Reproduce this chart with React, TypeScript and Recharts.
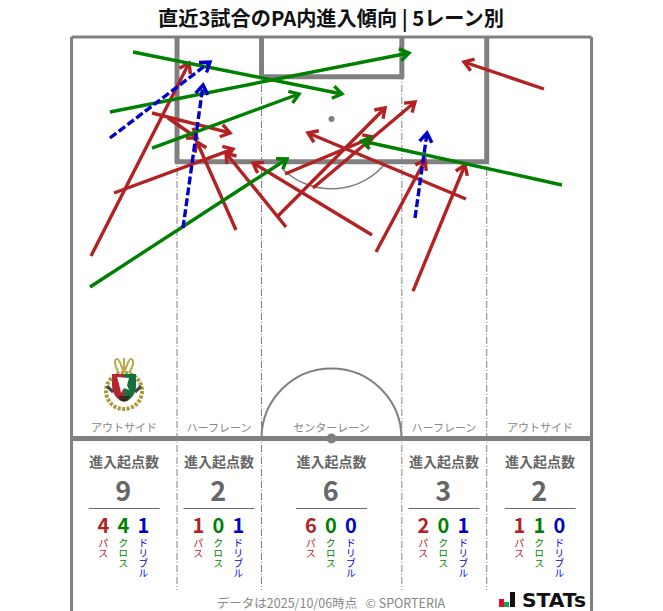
import { Customized, ReferenceDot, ReferenceLine, Scatter, ScatterChart, XAxis, YAxis } from "recharts";

// pitch in metres, x across the width, y down from the goal line
const PITCH_W = 68;
const CHART_BOTTOM = 75.06;
const HALFWAY = 52.5;
const PX_PER_M = 7.647;

// [startX, startY, endX, endY]
const passes = [
  [2.55, 28.64, 15.37, 3.4],
  [10.53, 9.94, 20.73, 12.55],
  [12.62, 10.59, 16.41, 13.21],
  [5.56, 20.4, 21.12, 14.65],
  [21.51, 25.24, 16.41, 13.73],
  [28.05, 24.85, 20.2, 15.17],
  [39.3, 25.89, 23.74, 16.48],
  [27.0, 23.41, 41.0, 9.28],
  [31.58, 19.75, 44.92, 8.5],
  [27.92, 17.92, 39.43, 13.08],
  [51.59, 21.18, 30.93, 12.55],
  [39.82, 28.12, 46.23, 16.08],
  [44.66, 33.22, 51.46, 16.74],
  [61.79, 6.8, 51.33, 3.27],
];
const crosses = [
  [8.04, 1.96, 35.37, 7.45],
  [5.03, 9.81, 44.13, 2.09],
  [10.53, 14.52, 29.75, 7.45],
  [2.42, 32.69, 28.18, 15.95],
  [64.14, 19.35, 37.99, 13.6],
];
const dribbles = [
  [5.03, 13.21, 18.11, 3.27],
  [14.58, 24.98, 17.2, 6.28],
  [44.92, 23.67, 46.49, 12.55],
];

const laneNames = ["アウトサイド", "ハーフレーン", "センターレーン", "ハーフレーン", "アウトサイド"];
const laneCentres = [6.87, 19.29, 34, 48.71, 61.27];
const laneTotals = [9, 2, 6, 3, 2];
const lanePass = [4, 1, 6, 2, 1];
const laneCross = [4, 0, 0, 0, 1];
const laneDribble = [1, 1, 0, 1, 0];
const laneLines = [13.8, 24.85, 43.2, 54.3];

const RED = "#b22222";
const GREEN = "#008000";
const BLUE = "#0000cd";
const GREY = "#808080";
const FONT = "'Noto Sans CJK JP', 'Noto Sans', sans-serif";

const PEN_SPOT = 10.72;
const BOX_BOTTOM = 16.32;
const GOAL_BOTTOM = 5.2;
const LANE_END = 72.3;

function toArrow(a: number[]) {
  return [
    { x: a[0], y: a[1] },
    { x: a[2], y: a[3], dx: a[2] - a[0], dy: a[3] - a[1] },
  ];
}

function arrowHead(color: string) {
  return (props: any) => {
    const { cx, cy, payload } = props;
    if (payload.dx === undefined) return <g />;
    const angle = Math.atan2(payload.dy, payload.dx);
    const wing = (off: number) => {
      const a = angle + Math.PI + off;
      return `${cx + Math.cos(a) * 11},${cy + Math.sin(a) * 11}`;
    };
    return (
      <polyline
        points={`${wing(0.6)} ${cx},${cy} ${wing(-0.6)}`}
        fill="none"
        stroke={color}
        strokeWidth={3.4}
        strokeLinejoin="miter"
      />
    );
  };
}

function LaneStats(props: any) {
  const { cx, cy, lane } = props;
  const groups = [
    { value: lanePass[lane], label: "パス", color: RED, dx: -20.7 },
    { value: laneCross[lane], label: "クロス", color: GREEN, dx: -0.7 },
    { value: laneDribble[lane], label: "ドリブル", color: BLUE, dx: 19.3 },
  ];
  return (
    <g fontFamily={FONT} textAnchor="middle">
      <text x={cx} y={cy - 6} fontSize={11} fill="#888">{laneNames[lane]}</text>
      <text x={cx} y={cy + 28.5} fontSize={14} fontWeight={700} fill="#666">進入起点数</text>
      <text x={cx - 0.7} y={cy + 63} fontSize={27} fontWeight={700} fill="#666">{laneTotals[lane]}</text>
      <line x1={cx - 35.5} x2={cx + 35.5} y1={cy + 70} y2={cy + 70} stroke="#666" strokeWidth={1} />
      {groups.map((g) => (
        <g key={g.label}>
          <text x={cx + g.dx} y={cy + 94.5} fontSize={20} fontWeight={700} fill={g.color}>{g.value}</text>
          <text
            x={cx + g.dx}
            y={cy + 99.5}
            fontSize={10}
            fill={g.color}
            textAnchor="start"
            style={{ writingMode: "vertical-rl" }}
          >
            {g.label}
          </text>
        </g>
      ))}
    </g>
  );
}

function Arc(props: any) {
  const { cx, cy, half } = props;
  const r = 9.15 * PX_PER_M;
  const d = half
    ? `M ${cx - r} ${cy} A ${r} ${r} 0 0 1 ${cx + r} ${cy}`
    : `M ${cx - 49} ${cy + 50} A ${r} ${r} 0 0 0 ${cx + 55} ${cy + 43}`;
  return <path d={d} fill="none" stroke={GREY} strokeWidth={half ? 2 : 1.5} />;
}

function Crest(props: any) {
  const { cx, cy } = props;
  return (
    <g transform={`translate(${cx} ${cy})`}>
      <path d="M-5 -18 C-10 -26 -10 -32 -7 -32 C-4 -32 -3 -24 0 -19 C3 -24 4 -32 7 -32 C10 -32 10 -26 5 -18" fill="none" stroke="#b8a94a" strokeWidth={2} />
      <path d="M0 -33 L0 -19" stroke="#b8a94a" strokeWidth={2} />
      <circle r={18} fill="#fff" stroke="#a89a3c" strokeWidth={4} strokeDasharray="3 1.5" />
      <path d="M-12 -17 L0 -17 L0 11 C-6 10 -12 3 -12 -5 Z" fill="#b5262b" />
      <path d="M12 -17 L0 -17 L0 11 C6 10 12 3 12 -5 Z" fill="#14713f" />
      <path d="M-7 -14 L5 -13 L3 -6 L5 -1 L0 -3 L-3 2 L-5 -7 Z" fill="#fff" />
      <path d="M-6 5 L6 5 L3 10 L-3 10 Z" fill="#3a2b20" />
      <path d="M-17 -5 L-11 1 M17 -5 L11 1" stroke="#444" strokeWidth={3} />
    </g>
  );
}

function Overlay() {
  return (
    <g fontFamily={FONT}>
      <text x={331} y={25.5} textAnchor="middle" fontSize={20.2} fontWeight={700} fill="#111">
        直近3試合のPA内進入傾向 | 5レーン別
      </text>
      <text x={331} y={608} textAnchor="middle" fontSize={12.5} fill="#888" xmlSpace="preserve">
        データは2025/10/06時点   © SPORTERIA
      </text>
      <rect x={499} y={599} width={5} height={8} fill="#e60b23" />
      <rect x={504} y={602} width={5} height={5} fill="#16a05a" />
      <rect x={510} y={592} width={5} height={15} fill="#111" />
      <text x={522} y={607} fontFamily="'DejaVu Sans'" fontWeight={700} fontSize={20} fill="#111" textLength={64} lengthAdjust="spacingAndGlyphs">
        STATs
      </text>
    </g>
  );
}

const seg = (x1: number, y1: number, x2: number, y2: number) => [{ x: x1, y: y1 }, { x: x2, y: y2 }] as any;

export default function App() {
  const series = [
    { rows: passes, color: RED, dash: undefined, name: "pass" },
    { rows: crosses, color: GREEN, dash: undefined, name: "cross" },
    { rows: dribbles, color: BLUE, dash: "8 3", name: "dribble" },
  ];
  return (
    <div style={{ position: "absolute", left: 0, top: 0, width: 663, height: 611, background: "#fff" }}>
      <ScatterChart width={663} height={611} margin={{ top: 37, right: 71.5, bottom: 0, left: 71.5 }}>
        <XAxis type="number" dataKey="x" domain={[0, PITCH_W]} hide />
        <YAxis type="number" dataKey="y" domain={[0, CHART_BOTTOM]} reversed hide />

        {laneLines.map((x) => (
          <ReferenceLine key={x} segment={seg(x, 0, x, LANE_END)} stroke={GREY} strokeWidth={1} strokeDasharray="7 2 1 2" ifOverflow="visible" />
        ))}
        <ReferenceLine segment={seg(0, 0, 0, CHART_BOTTOM)} stroke={GREY} strokeWidth={3} ifOverflow="visible" />
        <ReferenceLine segment={seg(PITCH_W, 0, PITCH_W, CHART_BOTTOM)} stroke={GREY} strokeWidth={3} ifOverflow="visible" />
        <ReferenceLine segment={seg(0, 0, PITCH_W, 0)} stroke={GREY} strokeWidth={3} ifOverflow="visible" />
        <ReferenceLine segment={seg(0, HALFWAY, PITCH_W, HALFWAY)} stroke={GREY} strokeWidth={5} ifOverflow="visible" />
        <ReferenceLine segment={seg(13.8, 0, 13.8, BOX_BOTTOM)} stroke={GREY} strokeWidth={5} ifOverflow="visible" />
        <ReferenceLine segment={seg(54.3, 0, 54.3, BOX_BOTTOM)} stroke={GREY} strokeWidth={5} ifOverflow="visible" />
        <ReferenceLine segment={seg(13.5, BOX_BOTTOM, 54.6, BOX_BOTTOM)} stroke={GREY} strokeWidth={5} ifOverflow="visible" />
        <ReferenceLine segment={seg(24.85, 0, 24.85, GOAL_BOTTOM)} stroke={GREY} strokeWidth={5} ifOverflow="visible" />
        <ReferenceLine segment={seg(43.2, 0, 43.2, GOAL_BOTTOM)} stroke={GREY} strokeWidth={5} ifOverflow="visible" />
        <ReferenceLine segment={seg(24.55, GOAL_BOTTOM, 43.5, GOAL_BOTTOM)} stroke={GREY} strokeWidth={5} ifOverflow="visible" />
        <ReferenceDot x={34} y={PEN_SPOT} r={3} fill={GREY} stroke="none" ifOverflow="visible" />
        <ReferenceDot x={34} y={HALFWAY} r={5} fill={GREY} stroke="none" ifOverflow="visible" />
        <ReferenceDot x={34} y={PEN_SPOT} ifOverflow="visible" shape={(p: any) => <Arc {...p} />} />
        <ReferenceDot x={34} y={HALFWAY} ifOverflow="visible" shape={(p: any) => <Arc {...p} half />} />
        <ReferenceDot x={6.87} y={46.3} ifOverflow="visible" shape={(p: any) => <Crest {...p} />} />
        {laneCentres.map((x, i) => (
          <ReferenceDot key={i} x={x} y={HALFWAY} ifOverflow="visible" shape={(p: any) => <LaneStats {...p} lane={i} />} />
        ))}

        {series.flatMap((s) =>
          s.rows.map((row, i) => (
            <Scatter
              key={s.name + i}
              data={toArrow(row)}
              isAnimationActive={false}
              line={{ stroke: s.color, strokeWidth: 3.4, strokeDasharray: s.dash }}
              shape={arrowHead(s.color)}
            />
          ))
        )}
        <Customized component={Overlay} />
      </ScatterChart>
    </div>
  );
}
